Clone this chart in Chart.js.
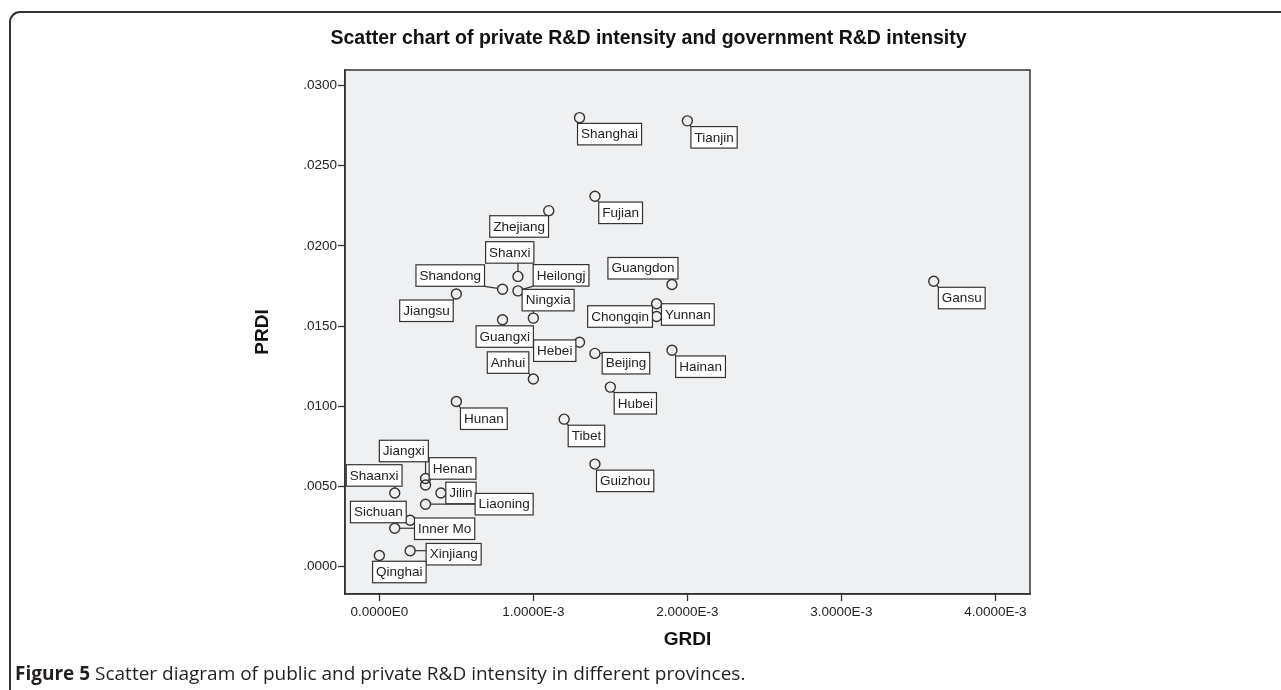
<!DOCTYPE html>
<html>
<head>
<meta charset="utf-8">
<script src="https://cdn.jsdelivr.net/npm/chart.js@4.4.1/dist/chart.umd.min.js"></script>
<style>
  html, body { margin: 0; padding: 0; background: #fff; width: 1281px; height: 690px; overflow: hidden; }
  #frame { position: absolute; left: 9px; top: 11px; width: 1300px; height: 700px;
           border: 2px solid #333; border-radius: 11px; box-sizing: border-box; }
  #wrap { position: absolute; left: 0; top: 0; width: 1281px; height: 690px; }
  #titre { position: absolute; left: 8px; width: 1281px; top: 26px; text-align: center;
           font: bold 19.5px "Liberation Sans", Arial, sans-serif; color: #111; }
  #legende { position: absolute; left: 15px; top: 660px; font: 19px "Open Sans", sans-serif; color: #231f20; }
  #legende b { font-weight: 700; }
</style>
</head>
<body>
<div id="frame"></div>
<div id="wrap"><canvas id="nuage"></canvas></div>
<div id="titre">Scatter chart of private R&amp;D intensity and government R&amp;D intensity</div>
<div id="legende"><b>Figure 5</b> Scatter diagram of public and private R&amp;D intensity in different provinces.</div>
<script>
// --- DONNÉES ---
const provinces = ['Shanghai', 'Tianjin', 'Fujian', 'Zhejiang', 'Shanxi', 'Shandong', 'Heilongj',
    'Guangdon', 'Jiangsu', 'Gansu', 'Yunnan', 'Chongqin', 'Guangxi', 'Ningxia', 'Hebei', 'Beijing',
    'Hainan', 'Anhui', 'Hubei', 'Hunan', 'Tibet', 'Guizhou', 'Jiangxi', 'Henan', 'Shaanxi', 'Jilin',
    'Liaoning', 'Sichuan', 'Inner Mo', 'Xinjiang', 'Qinghai'];
const grdi = [0.0013, 0.0020, 0.0014, 0.0011, 0.0009, 0.0008, 0.0009,
    0.0019, 0.0005, 0.0036, 0.0018, 0.0018, 0.0008, 0.0010, 0.0013, 0.0014,
    0.0019, 0.0010, 0.0015, 0.0005, 0.0012, 0.0014, 0.0003, 0.0003, 0.0001, 0.0004,
    0.0003, 0.0002, 0.0001, 0.0002, 0.0000];
const prdi = [0.0280, 0.0278, 0.0231, 0.0222, 0.0181, 0.0173, 0.0172,
    0.0176, 0.0170, 0.0178, 0.0164, 0.0156, 0.0154, 0.0155, 0.0140, 0.0133,
    0.0135, 0.0117, 0.0112, 0.0103, 0.0092, 0.0064, 0.0055, 0.0051, 0.0046, 0.0046,
    0.0039, 0.0029, 0.0024, 0.0010, 0.0007];
const xTicks = [0, 0.001, 0.002, 0.003, 0.004];
const xTickLabels = ['0.0000E0', '1.0000E-3', '2.0000E-3', '3.0000E-3', '4.0000E-3'];
const yTicks = [0, 0.005, 0.010, 0.015, 0.020, 0.025, 0.030];
const yTickLabels = ['.0000', '.0050', '.0100', '.0150', '.0200', '.0250', '.0300'];

// décalage du centre de chaque étiquette par rapport à son point (px)
const labelOffsets = [[30, 16.5], [26.7, 16.5], [25.7, 16.6], [-29.6, 15.8], [-8.2, -24], [-52.3, -13.7], [43.1, -15.5],
    [-29, -16.2], [-29.9, 16.7], [28, 16.8], [31.3, 10.8], [-36.5, 0], [2.2, 16.8], [14.8, -18], [-24.8, 8.5], [31, 9.8],
    [28.6, 16.5], [-25.3, -16.5], [25, 16.2], [27.5, 17.2], [22.3, 16.8], [30.2, 16.8], [-21.7, -27.5], [27, -16.5], [-20.6, -17.5], [20, 0],
    [78.6, 0], [-31.8, -8.2], [49.9, 0.5], [43.5, 3.5], [20, 16.5]];

const FOND = '#eff0f2';
const TRAIT = '#333';
const R_POINT = 5;

// --- PLUGIN : fond et cadre de la zone de tracé ---
const cadrePlugin = {
    id: 'cadre',
    beforeDraw(chart) {
        const { ctx, chartArea: a } = chart;
        ctx.save();
        ctx.fillStyle = FOND;
        ctx.fillRect(a.left, a.top, a.right - a.left, a.bottom - a.top);
        ctx.restore();
    },
    afterDraw(chart) {
        const { ctx, chartArea: a } = chart;
        ctx.save();
        ctx.strokeStyle = TRAIT;
        ctx.lineWidth = 1.5;
        ctx.strokeRect(a.left, a.top, a.right - a.left, a.bottom - a.top);
        ctx.restore();
    }
};

// --- PLUGIN : étiquettes encadrées avec trait de rappel ---
const etiquettesPlugin = {
    id: 'etiquettes',
    afterDatasetsDraw(chart) {
        const ctx = chart.ctx;
        const pts = chart.getDatasetMeta(0).data;
        ctx.save();
        ctx.font = '13.5px "Liberation Sans", Arial, sans-serif';
        const boites = pts.map((p, i) => {
            const w = ctx.measureText(provinces[i]).width + 7;
            const h = 21.5;
            const cx = p.x + labelOffsets[i][0];
            const cy = p.y + labelOffsets[i][1];
            return { x: cx - w / 2, y: cy - h / 2, w, h, cx, cy };
        });
        // traits de rappel
        ctx.strokeStyle = TRAIT;
        ctx.lineWidth = 1.2;
        pts.forEach((p, i) => {
            const b = boites[i];
            const nx = Math.max(b.x, Math.min(p.x, b.x + b.w));
            const ny = Math.max(b.y, Math.min(p.y, b.y + b.h));
            const d = Math.hypot(nx - p.x, ny - p.y);
            if (d > R_POINT + 1.5) {
                const ux = (nx - p.x) / d, uy = (ny - p.y) / d;
                ctx.beginPath();
                ctx.moveTo(p.x + ux * R_POINT, p.y + uy * R_POINT);
                ctx.lineTo(nx, ny);
                ctx.stroke();
            }
        });
        // boîtes
        ctx.textAlign = 'center';
        ctx.textBaseline = 'middle';
        boites.forEach((b, i) => {
            ctx.fillStyle = '#fff';
            ctx.fillRect(b.x, b.y, b.w, b.h);
            ctx.strokeStyle = TRAIT;
            ctx.lineWidth = 1.2;
            ctx.strokeRect(b.x, b.y, b.w, b.h);
            ctx.fillStyle = '#222';
            ctx.fillText(provinces[i], b.cx, b.cy + 0.5);
        });
        ctx.restore();
    }
};

const PAD_GAUCHE = 250, PAD_HAUT = 70, PAD_DROITE = 251, PAD_BAS = 39;

new Chart(document.getElementById('nuage'), {
    type: 'scatter',
    data: {
        datasets: [{
            data: grdi.map((x, i) => ({ x: x, y: prdi[i] })),
            pointStyle: 'circle',
            pointRadius: R_POINT,
            pointBorderWidth: 1.4,
            pointBorderColor: TRAIT,
            pointBackgroundColor: 'rgba(0,0,0,0)'
        }]
    },
    options: {
        responsive: true,
        maintainAspectRatio: false,
        animation: false,
        layout: { padding: { left: PAD_GAUCHE, top: PAD_HAUT, right: PAD_DROITE, bottom: PAD_BAS } },
        plugins: { legend: { display: false }, tooltip: { enabled: false } },
        scales: {
            x: {
                type: 'linear',
                min: -0.000223,
                max: 0.004225,
                afterFit(s) { s.height = 57; },
                afterBuildTicks(s) { s.ticks = xTicks.map(v => ({ value: v })); },
                ticks: {
                    callback: (v, i) => xTickLabels[i],
                    font: { family: '"Liberation Sans", Arial, sans-serif', size: 13.5 },
                    color: '#222',
                    padding: 3,
                    maxRotation: 0
                },
                grid: { drawOnChartArea: false, drawTicks: true, tickLength: 7, color: TRAIT, tickWidth: 1.3 },
                border: { display: true, color: TRAIT, width: 1.5 },
                title: {
                    display: true, text: 'GRDI', color: '#111',
                    font: { family: '"Liberation Sans", Arial, sans-serif', size: 19, weight: 'bold' },
                    padding: { top: 0, bottom: 0 }
                }
            },
            y: {
                type: 'linear',
                min: -0.0017,
                max: 0.03097,
                afterFit(s) { s.width = 345 - PAD_GAUCHE; },
                afterBuildTicks(s) { s.ticks = yTicks.map(v => ({ value: v })); },
                ticks: {
                    callback: (v, i) => yTickLabels[i],
                    font: { family: '"Liberation Sans", Arial, sans-serif', size: 13.5 },
                    color: '#222',
                    padding: 1
                },
                grid: { drawOnChartArea: false, drawTicks: true, tickLength: 7, color: TRAIT, tickWidth: 1.3 },
                border: { display: true, color: TRAIT, width: 1.5 },
                title: {
                    display: true, text: 'PRDI', color: '#111',
                    font: { family: '"Liberation Sans", Arial, sans-serif', size: 19, weight: 'bold' },
                    padding: { top: 1, bottom: 0 }
                }
            }
        }
    },
    plugins: [cadrePlugin, etiquettesPlugin]
});
</script>
</body>
</html>
